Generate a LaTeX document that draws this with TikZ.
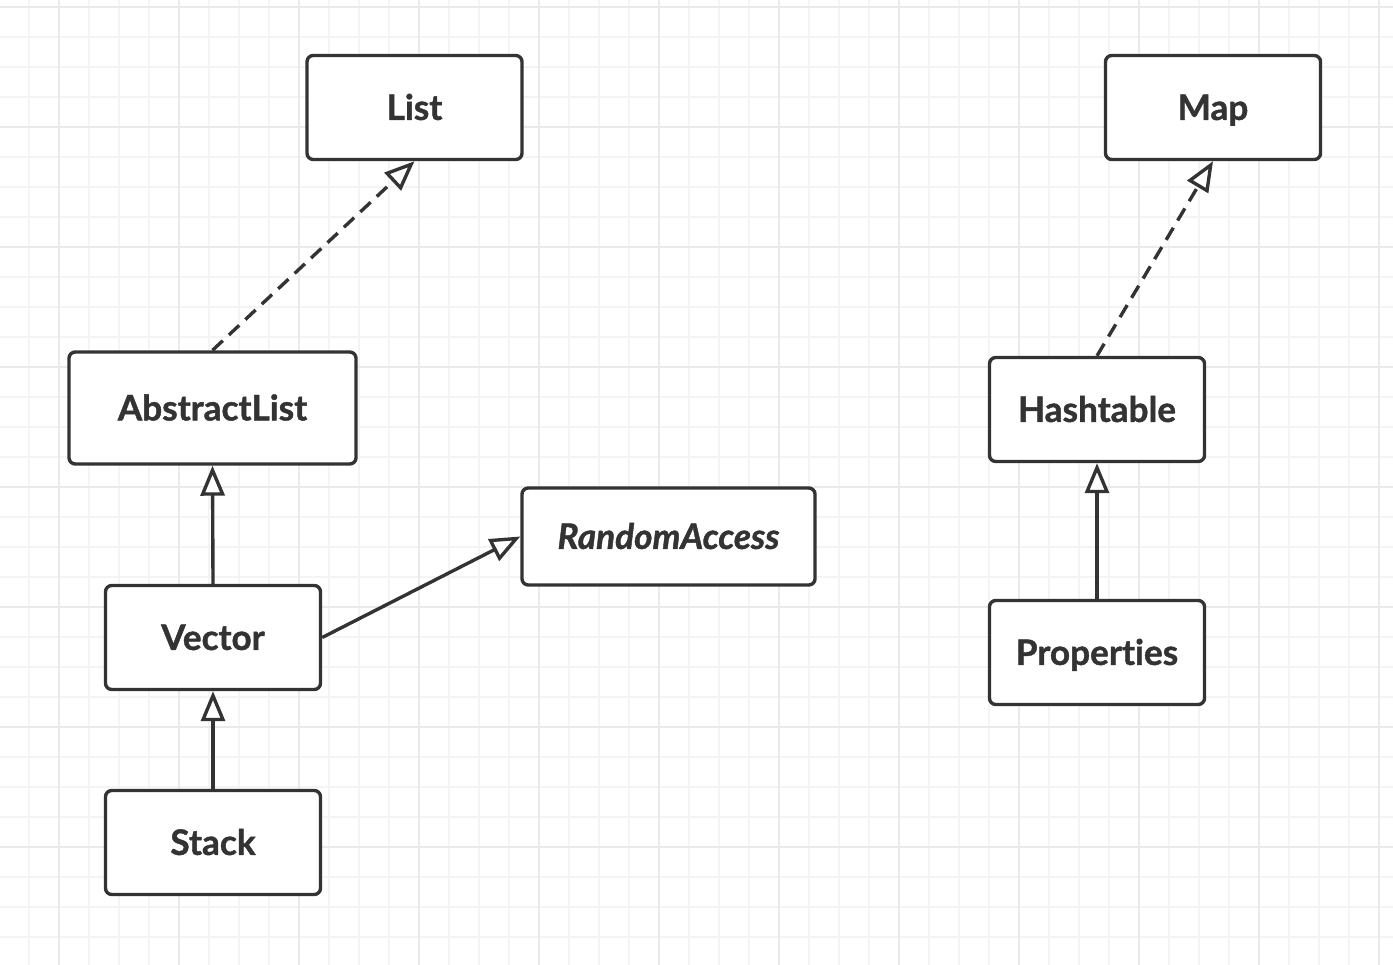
\documentclass[tikz,border=0pt]{standalone}
\usepackage{fontspec}
\setmainfont{Lato}[Ligatures={NoCommon,NoRare}, BoldFeatures={FakeBold=1.2}, BoldItalicFeatures={FakeBold=1.2}]
\usetikzlibrary{arrows.meta}
\definecolor{ink}{HTML}{333333}
\definecolor{minorgrid}{HTML}{F4F4F4}
\definecolor{majorgrid}{HTML}{EAEAEA}
\tikzset{
	class node/.style={draw=ink, text=ink, line width=2.4pt, rounded corners=4.5pt, fill=white,
		minimum width=5.375cm, minimum height=2.6cm, inner sep=0pt,
		text height=0.62cm, text depth=0cm,
		font=\fontsize{25}{30}\selectfont\bfseries},
	extends edge/.style={draw=ink, line width=2.4pt, -{Triangle[open, length=0.75cm, width=0.6cm, fill=white]}},
	implements edge/.style={extends edge, dash pattern=on 10pt off 6pt},
}
\begin{document}
\begin{tikzpicture}[x=0.025cm, y=-0.025cm]

  \useasboundingbox (0,0) rectangle (1393,965);
  \fill[white] (0,0) rectangle (1393,965);

  % background grid
  \foreach \x in {29,59,...,1393}
    \draw[minorgrid, line width=1.3pt] (\x,0) -- (\x,965);
  \foreach \y in {7,37,...,965}
    \draw[minorgrid, line width=1.3pt] (0,\y) -- (1393,\y);
  \foreach \x in {59,179,...,1393}
    \draw[majorgrid, line width=1.5pt] (\x,0) -- (\x,965);
  \foreach \y in {7,127,...,965}
    \draw[majorgrid, line width=1.5pt] (0,\y) -- (1393,\y);

  % classes
  \node (list) [class node] at (414.5,107.5) {List};
  \node (map) [class node] at (1213,107.5) {Map};
  \node (abstractlist) [class node, minimum width=7.175cm, minimum height=2.8cm] at (212.5,408) {AbstractList};
  \node (hashtable) [class node] at (1097,409.5) {Hashtable};
  \node (randomaccess) [class node, minimum width=7.325cm, minimum height=2.425cm, font=\fontsize{25}{30}\selectfont\bfseries\itshape] at (668.5,536.5) {RandomAccess};
  \node (vector) [class node] at (213,637.5) {Vector};
  \node (properties) [class node] at (1097,652.5) {Properties};
  \node (stack) [class node] at (213,842.5) {Stack};

  % relations
  \draw[implements edge] (abstractlist.north) -- (list.south);
  \draw[implements edge] (hashtable.north) -- (map.south);
  \draw[extends edge] (vector.north) -- (abstractlist.south);
  \draw[extends edge] (stack.north) -- (vector.south);
  \draw[extends edge] (vector.east) -- (randomaccess.west);
  \draw[extends edge] (properties.north) -- (hashtable.south);

\end{tikzpicture}
\end{document}
